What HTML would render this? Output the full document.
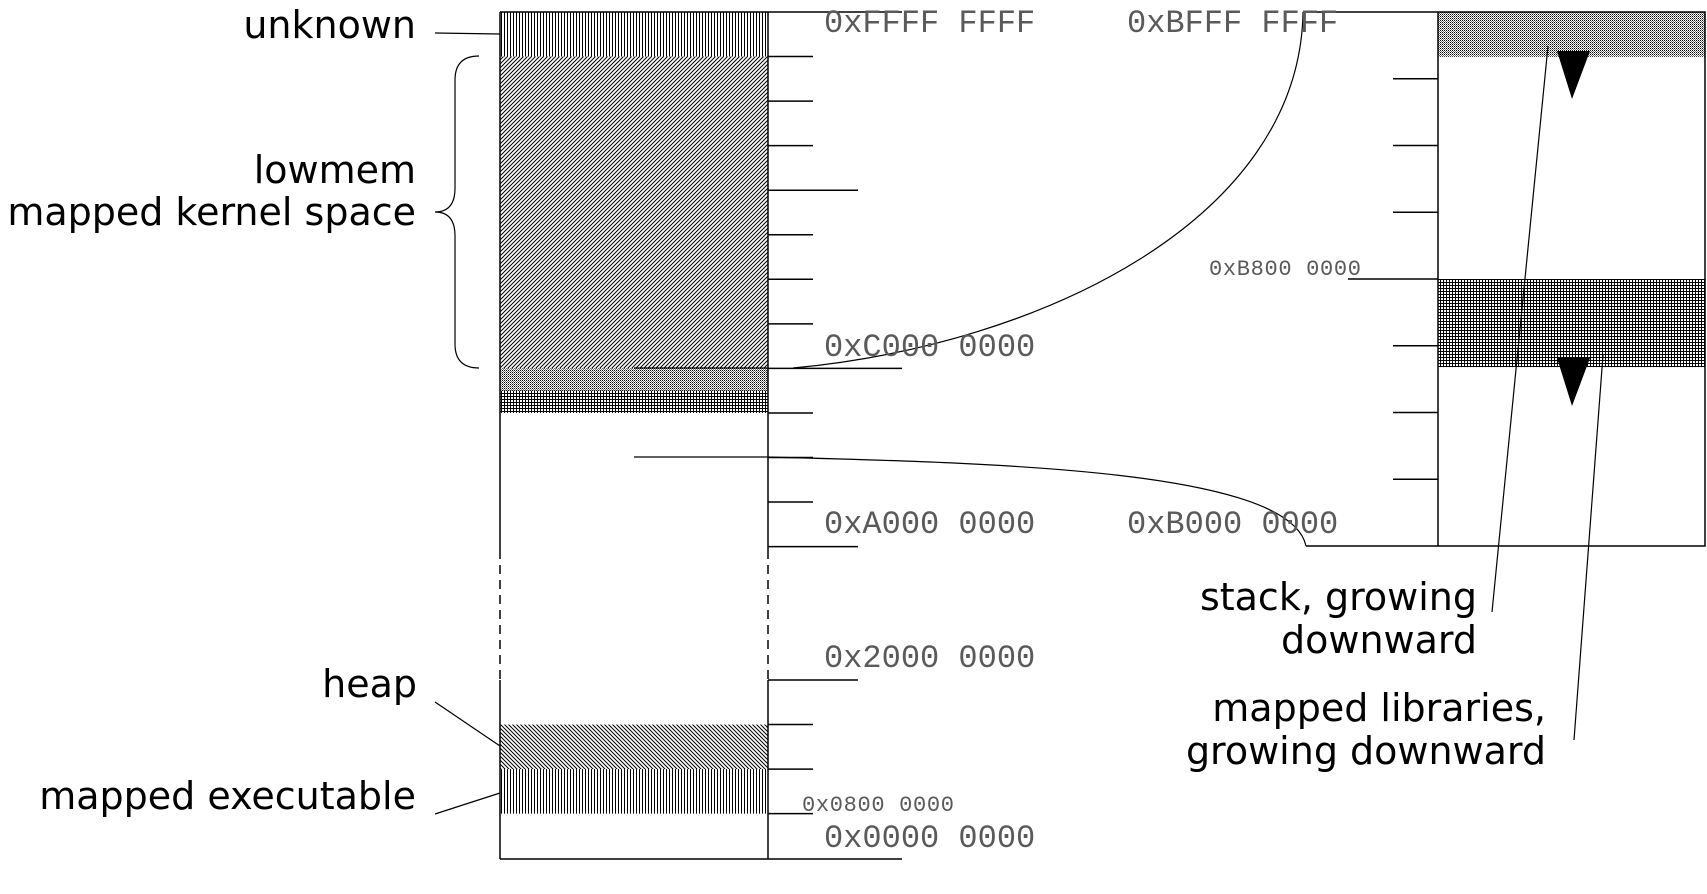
<!DOCTYPE html>
<html><head><meta charset="utf-8"><style>
html,body{margin:0;padding:0;background:#fff;}
svg{display:block;}
.lbl{font-family:"DejaVu Sans","Liberation Sans",sans-serif;font-size:38px;fill:#000;}
.hex{font-family:"Liberation Mono","DejaVu Sans Mono",monospace;font-size:32px;fill:#5a5a5a;}
.hexs{font-family:"Liberation Mono","DejaVu Sans Mono",monospace;font-size:22px;fill:#5a5a5a;}
</style></head><body>
<svg id="chart" width="1707" height="894" viewBox="0 0 1707 894" xmlns="http://www.w3.org/2000/svg">
<defs>
<pattern id="pv" width="3" height="3" patternUnits="userSpaceOnUse"><rect x="0" y="0" width="1" height="3" fill="#000"/></pattern>
<pattern id="pd" width="4" height="4" patternUnits="userSpaceOnUse"><path d="M-1 1 L1 -1 M0 4 L4 0 M3 5 L5 3" stroke="#000" stroke-width="1"/></pattern>
<pattern id="pb" width="4" height="4" patternUnits="userSpaceOnUse"><path d="M-1 3 L1 5 M0 0 L4 4 M3 -1 L5 1" stroke="#000" stroke-width="1"/></pattern>
<pattern id="pdot" width="2" height="2" patternUnits="userSpaceOnUse"><rect x="0" y="0" width="2" height="2" fill="#fff"/><rect x="0" y="0" width="1" height="1" fill="#000"/><rect x="1" y="1" width="1" height="1" fill="#777"/></pattern>
<pattern id="pg" width="3" height="3" patternUnits="userSpaceOnUse"><rect width="3" height="1" fill="#000"/><rect width="1" height="3" fill="#000"/></pattern>
</defs>
<g id="regions"></g>
<g id="ticks" stroke="#000" stroke-width="1.5"></g>
<g fill="none" stroke="#000" stroke-width="1.5">
<path d="M500 12 V550 M500 680 V859"/>
<path d="M768 12 V550 M768 680 V859"/>
<path d="M500 550 V680 M768 550 V680" stroke-dasharray="9 6"/>
<path d="M500 12 H902"/>
<path d="M500 859 H902"/>
<path d="M1303 12 H1705 V546 H1306 M1438 12 V546"/>
<path d="M793 368 C1040 345, 1300 220, 1303 12" stroke-width="1.2"/>
<path d="M634 368 H768" stroke-width="1.2"/>
<path d="M634 457 H768 C1000 463, 1290 470, 1306 546" stroke-width="1.2"/>
<path d="M479 56 Q455 56 455 80 L455 188 Q455 212 435 212 Q455 212 455 236 L455 344 Q455 368 479 368" stroke-width="1.2"/>
<path d="M435 33 L500 34" stroke-width="1.2"/>
<path d="M435 702 L500 746" stroke-width="1.2"/>
<path d="M435 814 L500 793" stroke-width="1.2"/>
<path d="M1492 612 L1548 46" stroke-width="1.2"/>
<path d="M1574 740 L1603 355" stroke-width="1.2"/>
</g>
<polygon points="1557,51 1590,51 1572,99" fill="#000"/>
<polygon points="1557,358 1590,358 1572,406" fill="#000"/>
<text class="lbl" x="416" y="38" text-anchor="end">unknown</text>
<text class="lbl" x="416" y="183" text-anchor="end">lowmem</text>
<text class="lbl" x="416" y="225" text-anchor="end">mapped kernel space</text>
<text class="lbl" x="417" y="697" text-anchor="end">heap</text>
<text class="lbl" x="416" y="809" text-anchor="end">mapped executable</text>
<text class="lbl" x="1477" y="610" text-anchor="end">stack, growing</text>
<text class="lbl" x="1477" y="653" text-anchor="end">downward</text>
<text class="lbl" x="1546" y="721" text-anchor="end">mapped libraries,</text>
<text class="lbl" x="1546" y="764" text-anchor="end">growing downward</text>
<text class="hex" x="824" y="32">0xFFFF FFFF</text>
<text class="hex" x="1127" y="32">0xBFFF FFFF</text>
<text class="hex" x="824" y="356">0xC000 0000</text>
<text class="hex" x="824" y="533">0xA000 0000</text>
<text class="hex" x="1127" y="533">0xB000 0000</text>
<text class="hex" x="824" y="667">0x2000 0000</text>
<text class="hex" x="824" y="847">0x0000 0000</text>
<text class="hexs" x="802" y="811" textLength="152">0x0800 0000</text>
<text class="hexs" x="1209" y="275" textLength="152">0xB800 0000</text>
</svg>
<script>
// region data: [top y-unit, bottom y-unit] in tick units
const leftRegionNames = ['unknown','lowmem','high-dotted','high-grid','heap','executable'];
const leftRegionTop = [0, 1, 8, 8.5, 1, 2];
const leftRegionBottom = [1, 8, 8.5, 9, 2, 3];
const leftRegionSeg = ['upper','upper','upper','upper','lower','lower'];
const leftRegionFill = ['pv','pd','pdot','pg','pb','pv'];
const rightRegionNames = ['stack','libraries'];
const rightRegionTop = [0, 4];
const rightRegionBottom = [0.67, 5.32];
const rightRegionFill = ['pdot','pg'];
const upperTicks = [1,2,3,4,5,6,7,8,9,10,11,12];
const upperLong = [4,12];
const upperXL = [8];
const lowerTicks = [0,1,2,3];
const lowerLong = [0];
const rightTicks = [1,2,3,4,5,6,7];
const rightLong = [4];

const NS='http://www.w3.org/2000/svg';
const upY = u => 12 + u*44.55;
const loY = u => 680 + u*44.55;
const rY = u => 12 + u*66.75;
const reg = document.getElementById('regions');
const tk = document.getElementById('ticks');
function mk(tag, attrs){const e=document.createElementNS(NS,tag);for(const k in attrs)e.setAttribute(k,attrs[k]);return e;}
leftRegionNames.forEach((n,i)=>{
  const f = leftRegionSeg[i]==='upper'?upY:loY;
  const y1=f(leftRegionTop[i]), y2=f(leftRegionBottom[i]);
  const r=mk('rect',{x:500,y:y1,width:268,height:y2-y1,fill:'url(#'+leftRegionFill[i]+')'});
  
  
  reg.appendChild(r);
});
rightRegionNames.forEach((n,i)=>{
  const y1=rY(rightRegionTop[i]), y2=rY(rightRegionBottom[i]);
  const r=mk('rect',{x:1438,y:y1,width:267,height:y2-y1,fill:'url(#'+rightRegionFill[i]+')'});
  
  
  reg.appendChild(r);
});
upperTicks.forEach(u=>{
  const end = upperXL.includes(u)?902:(upperLong.includes(u)?858:813);
  const l=mk('line',{x1:768,x2:end,y1:upY(u),y2:upY(u)});
  
  
  tk.appendChild(l);
});
lowerTicks.forEach(u=>{
  const end = lowerLong.includes(u)?858:813;
  const l=mk('line',{x1:768,x2:end,y1:loY(u),y2:loY(u)});
  
  
  tk.appendChild(l);
});
rightTicks.forEach(u=>{
  const start = rightLong.includes(u)?1348:1393;
  const l=mk('line',{x1:start,x2:1438,y1:rY(u),y2:rY(u)});
  
  
  tk.appendChild(l);
});
</script>
</body></html>
